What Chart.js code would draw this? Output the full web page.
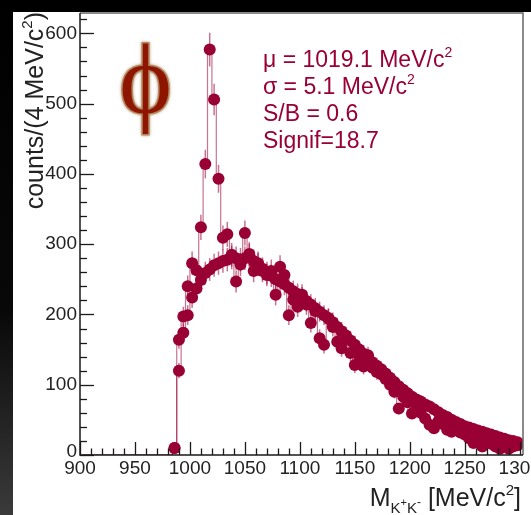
<!DOCTYPE html>
<html>
<head>
<meta charset="utf-8">
<script src="https://cdn.jsdelivr.net/npm/chart.js@4.4.0/dist/chart.umd.min.js"></script>
<style>
  html, body { margin: 0; padding: 0; background: #fff; }
  canvas { display: block; }
</style>
</head>
<body>
<canvas id="massChart" width="531" height="515"></canvas>
<script>
// K+K- invariant mass, 4 MeV/c2 bins, first bin centred at 902
const firstBin = 902;
const binWidth = 4;

// same-event spectrum (with the phi peak)
const sameEvent = [
  0, 0, 0, 0, 0, 0, 0, 0, 0, 0, 0, 0, 0, 0, 0, 0, 0, 0, 0, 0, 0,
  10, 164, 197, 240, 273, 263, 324, 414, 577, 506,
  393, 309, 314, 285, 247, 271, 316, 286, 262, 273,
  262, 256, 262, 228, 268, 256, 199, 221, 211, 228,
  214, 188, 205, 166, 157, 195, 182, 161, 152, 166,
  145, 128, 140, 126, 142, 124, 118, 115, 108, 100,
  90, 66, 83, 75, 59, 66, 60, 52, 43, 38,
  48, 44, 36, 33, 40, 32, 29, 24, 17, 22,
  12, 20, 16, 12, 9, 14, 9, 12, 14
];

// normalised background spectrum (smooth band)
const background = [
  0, 0, 0, 0, 0, 0, 0, 0, 0, 0, 0, 0, 0, 0, 0, 0, 0, 0, 0, 0, 0,
  10, 120, 174, 199, 224, 237, 249, 259, 264, 270,
  273, 276, 278, 281, 280, 278, 280, 284, 276, 271,
  265, 259, 255, 250, 247, 243, 238, 233, 229, 224,
  219, 214, 209, 204, 199, 194, 189, 182, 176, 170,
  163, 157, 150, 144, 138, 132, 127, 122, 116, 110,
  104, 98, 93, 88, 83, 79, 76, 72, 69, 65,
  61, 57, 54, 50, 47, 44, 41, 39, 37, 35,
  33, 31, 29, 27, 25, 23, 21, 20, 18
];

const xTicks = [900, 950, 1000, 1050, 1100, 1150, 1200, 1250, 1300];
const yTicks = [0, 100, 200, 300, 400, 500, 600];
const statLines = [
  ["\u03bc = 1019.1 MeV/c", "2"],
  ["\u03c3 = 5.1 MeV/c", "2"],
  ["S/B = 0.6", ""],
  ["Signif=18.7", ""]
];

const FONT = '"Liberation Sans", Arial, Helvetica, sans-serif';
const RED = '#990033';
const RED_LIGHT = 'rgba(153,0,51,0.55)';

const toPoints = (vals) => vals.map((v, i) => ({ x: firstBin + i * binWidth, y: v }));

// draw a run of [text, size, dy] pieces, returns width
function drawRich(ctx, parts, x, y, measureOnly) {
  let cx = x;
  parts.forEach(([t, size, dy]) => {
    ctx.font = size + 'px ' + FONT;
    if (!measureOnly) ctx.fillText(t, cx, y + dy);
    cx += ctx.measureText(t).width;
  });
  return cx - x;
}

const rootStyle = {
  id: 'rootStyle',
  beforeDraw(chart) {
    const { ctx, width, height } = chart;
    ctx.save();
    ctx.fillStyle = '#fff';
    ctx.fillRect(0, 0, width, height);
    ctx.fillStyle = '#000';
    ctx.fillRect(0, 0, width, 12);
    const g = ctx.createLinearGradient(0, 0, 0, height);
    g.addColorStop(0, '#000');
    g.addColorStop(0.6, '#080808');
    g.addColorStop(1, '#3a3a3a');
    ctx.fillStyle = g;
    ctx.fillRect(0, 0, 13, height);
    ctx.restore();
  },
  beforeDatasetsDraw(chart) {
    // statistical error bars
    const { ctx } = chart;
    const xs = chart.scales.x, ys = chart.scales.y;
    ctx.save();
    ctx.strokeStyle = RED_LIGHT;
    ctx.lineWidth = 1.5;
    chart.data.datasets.forEach(ds => {
      ds.data.forEach(p => {
        if (p.y <= 0) return;
        const err = Math.sqrt(p.y);
        const px = xs.getPixelForValue(p.x);
        ctx.beginPath();
        ctx.moveTo(px, ys.getPixelForValue(p.y - err));
        ctx.lineTo(px, ys.getPixelForValue(p.y + err));
        ctx.stroke();
      });
    });
    ctx.restore();
  },
  afterDraw(chart) {
    const { ctx, chartArea: ca } = chart;
    const xs = chart.scales.x, ys = chart.scales.y;
    ctx.save();

    // frame
    ctx.strokeStyle = '#666';
    ctx.lineWidth = 1.5;
    ctx.beginPath();
    ctx.moveTo(ca.left, ca.top);
    ctx.lineTo(ca.right, ca.top);
    ctx.lineTo(ca.right, ca.bottom);
    ctx.stroke();

    ctx.strokeStyle = '#1a1a1a';
    ctx.beginPath();
    ctx.moveTo(ca.left, ca.top);
    ctx.lineTo(ca.left, ca.bottom);
    ctx.lineTo(ca.right, ca.bottom);
    ctx.stroke();

    // y ticks, minor every 20
    ctx.lineWidth = 1.3;
    for (let v = 0; v <= ys.max; v += 20) {
      const py = Math.round(ys.getPixelForValue(v)) + 0.5;
      const len = v % 100 === 0 ? 14 : 7;
      ctx.beginPath();
      ctx.moveTo(ca.left, py);
      ctx.lineTo(ca.left + len, py);
      ctx.stroke();
    }
    // x ticks, minor every 10
    for (let v = 900; v <= xs.max; v += 10) {
      const px = Math.round(xs.getPixelForValue(v)) + 0.5;
      const len = v % 50 === 0 ? 13 : 6.5;
      ctx.beginPath();
      ctx.moveTo(px, ca.bottom);
      ctx.lineTo(px, ca.bottom - len);
      ctx.stroke();
    }

    // tick labels
    ctx.fillStyle = '#222';
    ctx.font = '19px ' + FONT;
    ctx.textAlign = 'right';
    ctx.textBaseline = 'middle';
    yTicks.forEach(v => ctx.fillText(String(v), ca.left - 3, ys.getPixelForValue(v) - (v === 0 ? 3 : 0)));
    ctx.textAlign = 'center';
    ctx.textBaseline = 'alphabetic';
    xTicks.forEach(v => ctx.fillText(String(v), xs.getPixelForValue(v), 474));

    // axis titles
    ctx.textAlign = 'left';
    const xTitle = [
      ['M', 25, 0], ['K', 15, 7], ['+', 11, 0], ['K', 15, 7], ['-', 12, 0],
      [' [MeV/c', 25, 0], ['2', 15, -11], [']', 25, 0]
    ];
    const xw = drawRich(ctx, xTitle, 0, 0, true);
    drawRich(ctx, xTitle, 521 - xw, 506);

    const yTitle = [['counts/(4 MeV/c', 25, 0], ['2', 15, -11], [')', 25, 0]];
    const yw = drawRich(ctx, yTitle, 0, 0, true);
    ctx.save();
    ctx.translate(43, 12 + yw);
    ctx.rotate(-Math.PI / 2);
    drawRich(ctx, yTitle, 0, 0);
    ctx.restore();

    // fit results
    ctx.fillStyle = RED;
    statLines.forEach(([t, sup], i) => {
      const base = 67 + i * 27;
      const parts = [[t, 23, 0]];
      if (sup) parts.push([sup, 14, -10]);
      drawRich(ctx, parts, 263, base);
    });

    // phi symbol
    ctx.textAlign = 'center';
    ctx.font = '100px "Liberation Serif", "DejaVu Serif", serif';
    ctx.shadowColor = 'rgba(150,105,60,0.9)';
    ctx.shadowBlur = 3;
    ctx.strokeStyle = 'rgba(170,125,80,0.8)';
    ctx.lineWidth = 3;
    ctx.strokeText('\u03d5', 145.5, 113);
    ctx.shadowBlur = 0;
    ctx.fillStyle = '#8e1600';
    ctx.fillText('\u03d5', 145.5, 113);

    ctx.restore();
  }
};

const markerRadius = (c) => (c.raw && c.raw.y > 0 ? 6 : 0);

new Chart(document.getElementById('massChart'), {
  type: 'scatter',
  data: {
    datasets: [
      {
        label: 'background',
        data: toPoints(background),
        showLine: true,
        stepped: 'middle',
        borderColor: RED_LIGHT,
        borderWidth: 1.2,
        backgroundColor: RED,
        pointRadius: markerRadius,
        pointBorderWidth: 0,
        pointBackgroundColor: RED
      },
      {
        label: 'data',
        data: toPoints(sameEvent),
        showLine: true,
        stepped: 'middle',
        borderColor: RED_LIGHT,
        borderWidth: 1.2,
        backgroundColor: RED,
        pointRadius: markerRadius,
        pointBorderWidth: 0,
        pointBackgroundColor: RED
      }
    ]
  },
  options: {
    responsive: false,
    animation: false,
    devicePixelRatio: 1,
    layout: { padding: { left: 80, top: 13, right: 8, bottom: 60 } },
    scales: {
      x: { type: 'linear', min: 900, max: 1303, display: false },
      y: { type: 'linear', min: 0, max: 629, display: false }
    },
    plugins: {
      legend: { display: false },
      tooltip: { enabled: false }
    }
  },
  plugins: [rootStyle]
});
</script>
</body>
</html>
